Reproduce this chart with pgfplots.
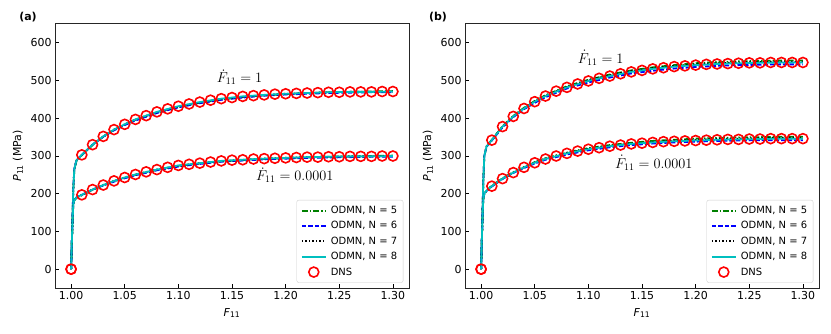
\documentclass[border=0pt]{standalone}
\usepackage{pgfplots}
\pgfplotsset{compat=1.18}
\usepackage{pgfplotstable}
\usepackage{fontspec}
\setmainfont{DejaVu Sans}

% model curves, panel (a): x, upper branch N=5..8, lower branch N=5..8
\pgfplotstableread{
x     h5  h6  h7  h8  l5  l6  l7  l8
1.000 0   0   0   0   0   0   0   0
1.001 98  102 100 100 98  102 100 100
1.002 208 212 210 210 168 172 170 170
1.003 263 266 265 265 182 184 183 183
1.005 287 289 288 288 189 190 190 190
1.01  302 303 303 303 196 197 197 197
1.02  329 330 330 330 210 211 211 211
1.03  351 351 352 352 222 222 223 223
1.04  369 368 370 370 233 232 234 234
1.05  383 382 384 384 242 241 243 243
1.06  396 394 397 397 250 249 251 251
1.08  415 414 416 417 263 262 264 264
1.10  430 429 431 432 274 272 274 275
1.12  441 440 442 443 280 279 281 281
1.14  450 449 451 452 286 285 286 287
1.16  456 455 457 458 289 288 290 290
1.18  461 460 461 462 292 291 293 293
1.20  464 463 465 465 294 293 295 295
1.22  467 465 467 467 296 295 297 297
1.24  469 467 469 469 298 296 298 298
1.26  470 468 470 470 299 297 299 299
1.28  471 469 470 470 300 298 299 299
1.30  472 469 471 471 301 298 300 300
}\modela

\pgfplotstableread{
x    hi  lo
1.00 0   0
1.01 303 197
1.02 330 211
1.03 352 223
1.04 370 234
1.05 384 243
1.06 397 251
1.07 407 258
1.08 417 264
1.09 425 270
1.10 432 275
1.11 438 278
1.12 443 281
1.13 448 284
1.14 452 287
1.15 455 289
1.16 458 290
1.17 460 292
1.18 462 293
1.19 464 294
1.20 465 295
1.21 466 296
1.22 467 297
1.23 468 297
1.24 469 298
1.25 469 298
1.26 470 299
1.27 470 299
1.28 470 299
1.29 471 300
1.30 471 300
}\dnsa

\pgfplotstableread{
x     h5  h6  h7  h8  l5  l6  l7  l8
1.000 0   0   0   0   0   0   0   0
1.001 108 112 110 110 108 112 110 110
1.002 228 232 230 230 183 187 185 185
1.003 299 300 300 300 199 200 200 200
1.005 325 324 325 325 208 207 208 208
1.01  343 341 342 342 221 219 220 220
1.02  379 376 378 378 241 239 240 240
1.03  406 403 405 405 257 255 256 256
1.04  428 424 426 426 271 268 270 270
1.05  446 441 445 444 284 280 283 282
1.06  461 456 460 459 294 290 293 292
1.08  485 479 483 482 309 304 308 307
1.10  502 495 501 499 321 315 319 318
1.12  516 508 514 512 329 323 327 326
1.14  527 519 525 523 335 329 333 332
1.16  535 526 533 531 340 333 337 336
1.18  541 532 539 537 343 336 341 339
1.20  546 536 543 541 346 338 343 341
1.22  549 539 546 544 348 340 345 343
1.24  551 541 548 546 349 341 346 344
1.26  552 542 549 547 350 342 347 345
1.28  553 543 550 548 351 342 348 346
1.30  553 543 550 548 351 342 348 346
}\modelb

\pgfplotstableread{
x    hi  lo
1.00 0   0
1.01 342 220
1.02 378 240
1.03 405 256
1.04 426 270
1.05 444 282
1.06 459 292
1.07 472 300
1.08 482 307
1.09 491 313
1.10 499 318
1.11 506 322
1.12 512 326
1.13 518 329
1.14 523 332
1.15 527 334
1.16 531 336
1.17 534 338
1.18 537 339
1.19 539 340
1.20 541 341
1.21 543 342
1.22 544 343
1.23 545 344
1.24 546 344
1.25 547 345
1.26 547 345
1.27 548 346
1.28 548 346
1.29 548 346
1.30 548 346
}\dnsb

\definecolor{mgreen}{RGB}{0,128,0}
\definecolor{mblue}{RGB}{0,0,255}
\definecolor{mcyan}{RGB}{0,191,191}

\tikzset{
  ann/.style={font=\fontsize{14}{16}\selectfont},
  plab/.style={font=\bfseries\fontsize{11}{13}\selectfont, xshift=-27bp, yshift=7bp},
  n5/.style={color=mgreen, line width=1.8bp, dash pattern=on 6bp off 2bp on 1.5bp off 2bp},
  n6/.style={color=mblue, line width=1.8bp, dash pattern=on 4.5bp off 2bp},
  n7/.style={color=black, line width=1.8bp, dash pattern=on 1.5bp off 2bp},
  n8/.style={color=mcyan, line width=1.8bp, solid},
}

\pgfplotsset{
  dns/.style={only marks, mark=o, mark size=5bp, color=red, mark options={line width=1.6bp, solid}},
  panel/.style={
    scale only axis, width=354bp, height=264bp,
    xmin=0.985, xmax=1.315, ymin=-50, ymax=650,
    xtick={1.00,1.05,1.10,1.15,1.20,1.25,1.30},
    ytick={0,100,200,300,400,500,600},
    xticklabel style={/pgf/number format/.cd, fixed, fixed zerofill, precision=2},
    /pgf/number format/assume math mode=true,
    ticklabel style={font=\fontsize{11}{13}\selectfont},
    tick align=inside, tick pos=left, major tick length=4bp,
    tick style={line width=0.8bp, black},
    axis line style={line width=1bp, black!85},
    clip mode=individual,
    xlabel={\textit{F}\textsubscript{11}},
    ylabel={\textit{P}\textsubscript{11} (MPa)},
    label style={font=\fontsize{11}{13}\selectfont},
    xlabel style={at={(axis description cs:0.5,-0.095)}, anchor=center},
    ylabel style={at={(axis description cs:-0.105,0.5)}, anchor=center},
    legend style={at={(0.984,0.02)}, anchor=south east, draw=black!20,
      rounded corners=2bp, font=\fontsize{10}{12}\selectfont,
      row sep=2.5bp, inner sep=4bp, column sep=2bp},
    legend cell align=left,
  },
  lleg/.style={legend image code/.code={%
      \draw[##1, line width=2bp] (0bp,0bp) -- (24bp,0bp);}},
  dleg/.style={legend image code/.code={%
      \draw[##1] plot coordinates {(12bp,0bp)};}},
}

\begin{document}
\begin{tikzpicture}
\useasboundingbox (-55bp,-46bp) rectangle (776bp,288bp);

\begin{axis}[panel, at={(0,0)}, anchor=south west]
\addplot[n5, lleg] table[x=x, y=h5] {\modela};
\addplot[n6, lleg] table[x=x, y=h6] {\modela};
\addplot[n7, lleg] table[x=x, y=h7] {\modela};
\addplot[n8, lleg] table[x=x, y=h8] {\modela};
\addplot[dns, dleg] table[x=x, y=hi] {\dnsa};
\addplot[n5, forget plot] table[x=x, y=l5] {\modela};
\addplot[n6, forget plot] table[x=x, y=l6] {\modela};
\addplot[n7, forget plot] table[x=x, y=l7] {\modela};
\addplot[n8, forget plot] table[x=x, y=l8] {\modela};
\addplot[dns, forget plot] table[x=x, y=lo] {\dnsa};
\legend{ODMN{,} N = 5, ODMN{,} N = 6, ODMN{,} N = 7, ODMN{,} N = 8, DNS}
\node[ann] at (axis cs:1.157,509) {$\dot{F}_{11} = 1$};
\node[ann] at (axis cs:1.2085,249) {$\dot{F}_{11} = 0.0001$};
\node[plab] at (rel axis cs:0,1) {(a)};
\end{axis}

\begin{axis}[panel, at={(410bp,0)}, anchor=south west]
\addplot[n5, lleg] table[x=x, y=h5] {\modelb};
\addplot[n6, lleg] table[x=x, y=h6] {\modelb};
\addplot[n7, lleg] table[x=x, y=h7] {\modelb};
\addplot[n8, lleg] table[x=x, y=h8] {\modelb};
\addplot[dns, dleg] table[x=x, y=hi] {\dnsb};
\addplot[n5, forget plot] table[x=x, y=l5] {\modelb};
\addplot[n6, forget plot] table[x=x, y=l6] {\modelb};
\addplot[n7, forget plot] table[x=x, y=l7] {\modelb};
\addplot[n8, forget plot] table[x=x, y=l8] {\modelb};
\addplot[dns, forget plot] table[x=x, y=lo] {\dnsb};
\legend{ODMN{,} N = 5, ODMN{,} N = 6, ODMN{,} N = 7, ODMN{,} N = 8, DNS}
\node[ann] at (axis cs:1.1115,560) {$\dot{F}_{11} = 1$};
\node[ann] at (axis cs:1.161,282) {$\dot{F}_{11} = 0.0001$};
\node[plab] at (rel axis cs:0,1) {(b)};
\end{axis}
\end{tikzpicture}
\end{document}
